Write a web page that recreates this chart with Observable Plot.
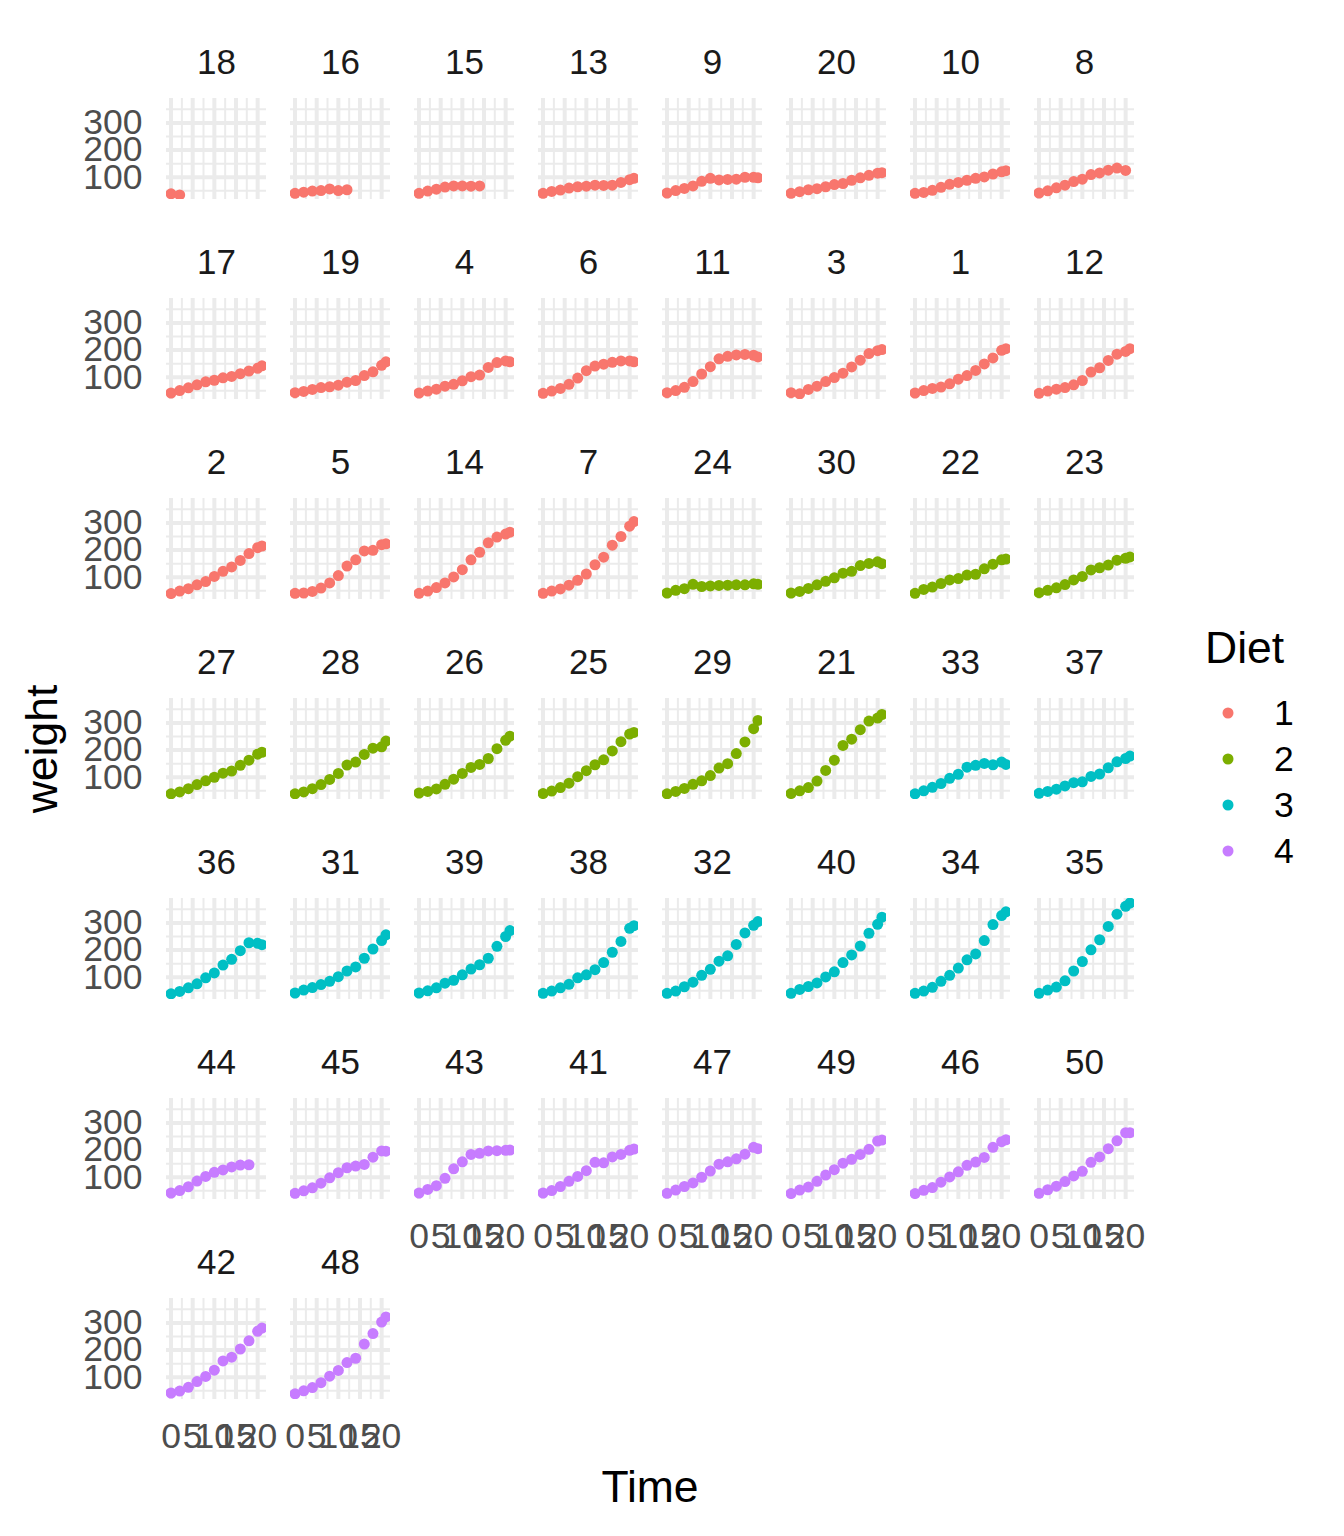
<!DOCTYPE html>
<html>
<head>
<meta charset="utf-8">
<script src="https://cdn.jsdelivr.net/npm/d3@7"></script>
<script src="https://cdn.jsdelivr.net/npm/@observablehq/plot@0.6"></script>
<style>
  html, body { margin: 0; padding: 0; background: #fff; }
  #chart { position: relative; width: 1344px; height: 1536px; }
</style>
</head>
<body>
<div id="chart"></div>
<script>
// ---- Data (ChickWeight, facets ordered as in the chart) ----
const times = [0, 2, 4, 6, 8, 10, 12, 14, 16, 18, 20, 21];
const chicks = [18, 16, 15, 13, 9, 20, 10, 8,
                17, 19, 4, 6, 11, 3, 1, 12,
                2, 5, 14, 7, 24, 30, 22, 23,
                27, 28, 26, 25, 29, 21, 33, 37,
                36, 31, 39, 38, 32, 40, 34, 35,
                44, 45, 43, 41, 47, 49, 46, 50,
                42, 48];
const chickDiet = [1, 1, 1, 1, 1, 1, 1, 1,
                   1, 1, 1, 1, 1, 1, 1, 1,
                   1, 1, 1, 1, 2, 2, 2, 2,
                   2, 2, 2, 2, 2, 2, 3, 3,
                   3, 3, 3, 3, 3, 3, 3, 3,
                   4, 4, 4, 4, 4, 4, 4, 4,
                   4, 4];
const weights = [
  [39, 35],
  [41, 45, 49, 51, 57, 51, 54],
  [41, 49, 56, 64, 68, 68, 67, 68],
  [41, 48, 53, 60, 65, 67, 71, 70, 71, 81, 91, 96],
  [42, 51, 59, 68, 85, 96, 90, 92, 93, 100, 100, 98],
  [41, 47, 54, 58, 65, 73, 77, 89, 98, 107, 115, 117],
  [41, 44, 52, 63, 74, 81, 89, 96, 101, 112, 120, 124],
  [42, 50, 61, 71, 84, 93, 110, 116, 126, 134, 125],
  [42, 51, 61, 72, 83, 89, 98, 103, 113, 123, 133, 142],
  [43, 48, 55, 62, 65, 71, 82, 88, 106, 120, 144, 157],
  [42, 49, 56, 67, 74, 87, 102, 108, 136, 154, 160, 157],
  [41, 49, 59, 74, 97, 124, 141, 148, 155, 160, 160, 157],
  [43, 51, 63, 84, 112, 139, 168, 177, 182, 184, 181, 175],
  [43, 39, 55, 67, 84, 99, 115, 138, 163, 187, 198, 202],
  [42, 51, 59, 64, 76, 93, 106, 125, 149, 171, 199, 205],
  [41, 49, 56, 62, 72, 88, 119, 135, 162, 185, 195, 205],
  [40, 49, 58, 72, 84, 103, 122, 138, 162, 187, 209, 215],
  [41, 42, 48, 60, 79, 106, 141, 164, 197, 199, 220, 223],
  [41, 49, 62, 79, 101, 128, 164, 192, 227, 248, 259, 266],
  [41, 49, 57, 71, 89, 112, 146, 174, 218, 250, 288, 305],
  [42, 52, 58, 74, 66, 68, 70, 71, 72, 72, 76, 74],
  [42, 48, 59, 72, 85, 98, 115, 122, 143, 151, 157, 150],
  [41, 55, 64, 77, 90, 95, 108, 111, 131, 148, 164, 167],
  [43, 52, 61, 73, 90, 103, 127, 135, 145, 163, 170, 175],
  [39, 46, 58, 73, 87, 100, 115, 123, 144, 163, 185, 192],
  [39, 46, 58, 73, 92, 114, 145, 156, 184, 207, 212, 233],
  [42, 48, 57, 74, 93, 114, 136, 147, 169, 205, 236, 251],
  [40, 49, 62, 78, 102, 124, 146, 164, 197, 231, 259, 265],
  [39, 48, 59, 74, 87, 106, 134, 150, 187, 230, 279, 309],
  [40, 50, 62, 86, 125, 163, 217, 240, 275, 307, 318, 331],
  [39, 50, 63, 77, 96, 111, 137, 144, 151, 146, 156, 147],
  [41, 48, 56, 68, 80, 83, 103, 112, 135, 157, 169, 178],
  [39, 48, 61, 76, 98, 116, 145, 166, 198, 227, 225, 220],
  [42, 53, 62, 73, 85, 102, 123, 138, 170, 204, 235, 256],
  [42, 50, 61, 78, 89, 109, 130, 146, 170, 214, 250, 272],
  [41, 49, 61, 74, 98, 109, 128, 154, 192, 232, 280, 290],
  [41, 49, 65, 82, 107, 129, 159, 179, 221, 263, 291, 305],
  [41, 55, 66, 79, 101, 120, 154, 182, 215, 262, 295, 321],
  [41, 49, 63, 85, 107, 134, 164, 186, 235, 294, 327, 341],
  [41, 53, 64, 87, 123, 158, 201, 238, 287, 332, 361, 373],
  [42, 51, 65, 86, 103, 118, 127, 138, 145, 146],
  [41, 50, 61, 78, 98, 117, 135, 141, 147, 174, 197, 196],
  [42, 55, 69, 96, 131, 157, 184, 188, 197, 198, 199, 200],
  [42, 51, 66, 85, 103, 124, 155, 153, 175, 184, 199, 204],
  [41, 53, 66, 79, 100, 123, 148, 157, 168, 185, 210, 205],
  [40, 53, 64, 85, 108, 128, 152, 166, 184, 203, 233, 237],
  [40, 52, 62, 82, 101, 120, 144, 156, 173, 210, 231, 238],
  [41, 54, 67, 84, 105, 122, 155, 175, 205, 234, 264, 264],
  [42, 49, 63, 84, 103, 126, 160, 174, 204, 234, 269, 281],
  [39, 50, 62, 80, 104, 125, 154, 170, 222, 261, 303, 322]
];
const diets = ["1", "2", "3", "4"];
const dietColors = ["#F8766D", "#7CAE00", "#00BFC4", "#C77CFF"];
const xTicks = [0, 5, 10, 15, 20];
const xMinor = [2.5, 7.5, 12.5, 17.5];
const yTicks = [100, 200, 300];
const yMinor = [50, 150, 250, 350];

// ---- Build tables ----
const NCOL = 8;
const n = chicks.length;
const panels = chicks.map((c, i) => ({chick: String(c), idx: i, col: i % NCOL, row: Math.floor(i / NCOL)}));
const points = [];
panels.forEach((p, i) => {
  weights[i].forEach((w, k) => {
    points.push({time: times[k], weight: w, diet: String(chickDiet[i]), col: p.col, row: p.row});
  });
});
const bottomPanels = panels.filter(p => p.idx + NCOL >= n);
const leftPanels = panels.filter(p => p.col === 0);
const xTickData = bottomPanels.flatMap(p => xTicks.map(t => ({col: p.col, row: p.row, t})));
const yTickData = leftPanels.flatMap(p => yTicks.map(t => ({col: p.col, row: p.row, t})));

const allW = weights.flat();
const wMin = d3.min(allW), wMax = d3.max(allW);
const tMin = d3.min(times), tMax = d3.max(times);
const yPad = (wMax - wMin) * 0.05, xPad = (tMax - tMin) * 0.05;

const FONT = "'Liberation Sans', Arial, Helvetica, sans-serif";
const grid = "#EBEBEB";

const plot = Plot.plot({
  width: 1344,
  height: 1536,
  marginTop: 98,
  marginLeft: 166,
  marginRight: 210,
  marginBottom: 137,
  style: {fontFamily: FONT, background: "#fff", overflow: "visible"},
  x: {domain: [tMin - xPad, tMax + xPad], axis: null},
  y: {domain: [wMin - yPad, wMax + yPad], axis: null},
  fx: {domain: d3.range(NCOL), axis: null, paddingInner: 24 / 124, paddingOuter: 0},
  fy: {domain: d3.range(Math.ceil(n / NCOL)), axis: null, paddingInner: 99 / 200, paddingOuter: 0},
  color: {domain: diets, range: dietColors},
  marks: [
    Plot.ruleX(xMinor, {stroke: grid, strokeWidth: 2}),
    Plot.ruleY(yMinor, {stroke: grid, strokeWidth: 2}),
    Plot.ruleX(xTicks, {stroke: grid, strokeWidth: 4}),
    Plot.ruleY(yTicks, {stroke: grid, strokeWidth: 4}),
    Plot.dot(points, {x: "time", y: "weight", fx: "col", fy: "row", fill: "diet", r: 5.5, clip: true}),
    Plot.text(panels, {fx: "col", fy: "row", text: "chick", frameAnchor: "top", lineAnchor: "middle", dy: -36, fontSize: 35, fill: "#1A1A1A"}),
    Plot.text(xTickData, {fx: "col", fy: "row", x: "t", text: d => String(d.t), frameAnchor: "bottom", lineAnchor: "middle", dy: 37, fontSize: 35.5, fill: "#4D4D4D"}),
    Plot.text(yTickData, {fx: "col", fy: "row", y: "t", text: d => String(d.t), frameAnchor: "left", textAnchor: "end", lineAnchor: "middle", dx: -24, fontSize: 35.5, fill: "#4D4D4D"})
  ]
});

document.getElementById("chart").appendChild(plot);

// ---- Axis titles and legend ----
const svg = d3.select(plot);
svg.append("text")
  .attr("x", 650).attr("y", 1502)
  .attr("text-anchor", "middle")
  .attr("font-size", 44.5).attr("font-family", FONT).attr("fill", "#000")
  .text("Time");
svg.append("text")
  .attr("transform", "translate(57,749) rotate(-90)")
  .attr("text-anchor", "middle")
  .attr("font-size", 44.5).attr("font-family", FONT).attr("fill", "#000")
  .text("weight");

const color = plot.scale("color");
const leg = svg.append("g").attr("text-anchor", "start");
leg.append("text")
  .attr("x", 1205).attr("y", 663)
  .attr("text-anchor", "start")
  .attr("font-size", 44.5).attr("font-family", FONT).attr("fill", "#000")
  .text("Diet");
color.domain.forEach((d, k) => {
  const cy = 713 + 46 * k;
  leg.append("circle").attr("cx", 1228).attr("cy", cy).attr("r", 5.5).attr("fill", color.apply(d));
  leg.append("text")
    .attr("x", 1274).attr("y", cy).attr("dy", "0.35em")
    .attr("text-anchor", "start")
    .attr("font-size", 35.5).attr("font-family", FONT).attr("fill", "#000")
    .text(d);
});
</script>
</body>
</html>
